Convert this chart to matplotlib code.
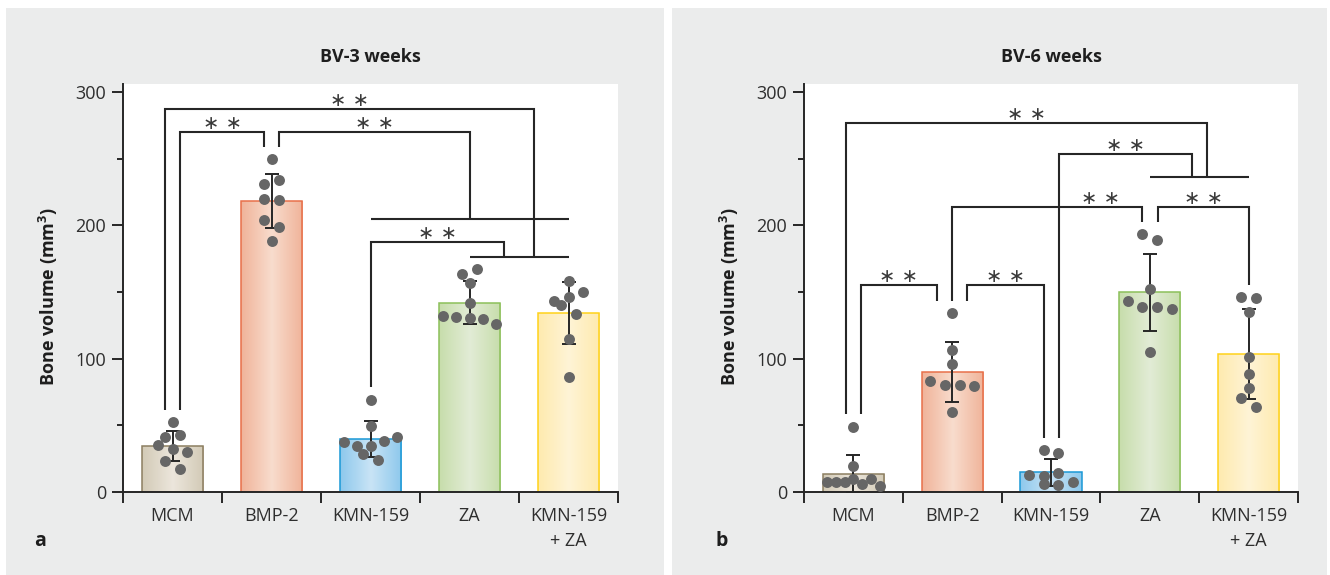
import numpy as np
import matplotlib
matplotlib.use('Agg')
import matplotlib.pyplot as plt
from matplotlib.colors import LinearSegmentedColormap
from matplotlib.patches import Rectangle
from matplotlib.ticker import FixedLocator, NullFormatter

# ---------------- data ----------------
categories = ['MCM', 'BMP-2', 'KMN-159', 'ZA', 'KMN-159\n+ ZA']
titles = ['BV-3 weeks', 'BV-6 weeks']
panel_letters = ['a', 'b']
y_label = r'Bone volume (mm$^{\mathbf{3}}$)'
y_major = [0, 100, 200, 300]
y_minor = [50, 150, 250]

bv3_mcm = [52.2, 41.2, 43.0, 35.3, 32.5, 30.0, 23.2, 17.5]
bv3_bmp2 = [249.5, 231.0, 234.3, 220.0, 219.3, 203.7, 199.0, 188.3]
bv3_kmn = [69.2, 49.8, 37.2, 34.7, 34.7, 38.5, 41.5, 28.7, 24.0]
bv3_za = [163.3, 167.3, 157.0, 141.5, 131.8, 131.5, 130.3, 129.5, 126.0]
bv3_kmn_za = [158.5, 143.0, 146.5, 150.0, 140.0, 133.7, 114.8, 86.0]

bv6_mcm = [49.0, 19.8, 7.8, 7.8, 7.8, 9.5, 6.0, 10.0, 4.8]
bv6_bmp2 = [134.2, 106.3, 95.7, 83.5, 80.0, 80.0, 79.5, 60.0]
bv6_kmn = [31.5, 29.5, 12.5, 11.8, 14.5, 7.8, 6.0, 5.3]
bv6_za = [193.7, 189.3, 152.3, 143.3, 138.5, 138.5, 137.0, 105.2]
bv6_kmn_za = [146.0, 145.3, 134.8, 101.2, 88.7, 78.2, 70.8, 64.0]

groups_3w = [bv3_mcm, bv3_bmp2, bv3_kmn, bv3_za, bv3_kmn_za]
groups_6w = [bv6_mcm, bv6_bmp2, bv6_kmn, bv6_za, bv6_kmn_za]

# significance brackets: (left x, right x, top y, left leg end, right leg end, star x)
brackets_3w = [
    (0 + 0.08, 1 - 0.076, 270, 61.5, 259, None),
    (1 + 0.076, 3.0, 270, 259, 204.5, None),
    (2.0, 3.35, 187.5, 78.5, 176.5, None),
    (0 - 0.076, 3.65, 287, 61.5, 176.5, None),
]
group_lines_3w = [(2.0, 4.0, 204.5), (3.0, 4.0, 176.5)]

brackets_6w = [
    (0 + 0.074, 1 - 0.154, 155, 58.3, 143.5, None),
    (1 + 0.153, 2 - 0.074, 155, 143.5, 40.7, None),
    (1.0, 3 - 0.08, 214, 143.5, 202.7, 2.5),
    (3 + 0.08, 4.0, 214, 202.7, 155.3, None),
    (2 + 0.08, 3.43, 253.5, 40.7, 236.5, None),
    (0 - 0.078, 3.58, 276.5, 58.3, 236.5, None),
]
group_lines_6w = [(3.0, 4.0, 236.5)]

# ---------------- style ----------------
edge_colors = ['#8c7e60', '#e8704a', '#1a98d6', '#8cc05a', '#ffd21a']
side_fills = ['#d2cab6', '#f0b399', '#8dc8ec', '#c7ddab', '#feeaae']
mid_fills = ['#ece6dc', '#f8dccd', '#c9e4f6', '#e2ecd6', '#fff4d6']
DOT = '#666666'
INK = '#262626'
TXT = '#2e2e2e'
PANEL = '#ebecec'

plt.rcParams['font.family'] = ['Open Sans', 'DejaVu Sans']
plt.rcParams['font.size'] = 13
plt.rcParams['mathtext.fontset'] = 'custom'
plt.rcParams['mathtext.rm'] = 'Open Sans'
plt.rcParams['mathtext.bf'] = 'Open Sans:bold'

W, H = 1330, 575
fig = plt.figure(figsize=(W / 100, H / 100), dpi=100)
fig.patch.set_facecolor('white')
fig.patches.append(Rectangle((6 / W, 0), 658 / W, 567 / H, transform=fig.transFigure,
                             facecolor=PANEL, edgecolor='none', zorder=-10))
fig.patches.append(Rectangle((672 / W, 0), 655 / W, 567 / H, transform=fig.transFigure,
                             facecolor=PANEL, edgecolor='none', zorder=-10))


def swarm_offsets(vals, row_gap=7.3, max_span=0.53, step=0.15):
    vals = np.asarray(vals, float)
    order = np.argsort(-vals, kind='stable')
    rows, cur, top = [], [], None
    for i in order:
        if cur and top - vals[i] > row_gap:
            rows.append(cur)
            cur = []
        if not cur:
            top = vals[i]
        cur.append(i)
    if cur:
        rows.append(cur)
    off = np.zeros(len(vals))
    for r in rows:
        r = sorted(r)
        n = len(r)
        if n > 1:
            s = min(step, max_span / (n - 1))
            for k, i in enumerate(r):
                off[i] = (k - (n - 1) / 2) * s
    return off


def draw_panel(ax, groups, title, brackets, group_lines):
    x = np.arange(len(categories))
    means = [np.mean(g) for g in groups]
    sds = [np.std(g, ddof=1) for g in groups]
    bars = ax.bar(x, means, width=0.62, facecolor='none', edgecolor=edge_colors,
                  linewidth=1.1, zorder=2)
    grad = np.linspace(0, 1, 256).reshape(1, -1)
    for i, b in enumerate(bars):
        cmap = LinearSegmentedColormap.from_list(
            'g%d' % i, [side_fills[i], mid_fills[i], side_fills[i]])
        im = ax.imshow(grad, cmap=cmap, aspect='auto', zorder=1,
                       extent=[b.get_x(), b.get_x() + b.get_width(), 0, b.get_height()])
        im.set_clip_path(b)
    ax.errorbar(x, means, yerr=sds, fmt='none', ecolor=INK, elinewidth=1.4,
                capsize=5, capthick=1.4, zorder=3)
    for i, g in enumerate(groups):
        ax.scatter(x[i] + swarm_offsets(g), g, s=62, color=DOT, linewidths=0, zorder=4)

    for (x1, x2, y, y1, y2, sx) in brackets:
        ax.plot([x1, x1, x2, x2], [y1, y, y, y2], color=INK, lw=1.5,
                solid_joinstyle='miter', solid_capstyle='butt', zorder=5)
        ax.text((x1 + x2) / 2 if sx is None else sx, y + 2.2, '∗ ∗',
                family=['DejaVu Sans'], fontsize=14, color='#3a3a3a',
                ha='center', va='baseline', zorder=6)
    for (x1, x2, y) in group_lines:
        ax.plot([x1, x2], [y, y], color=INK, lw=1.5, solid_capstyle='butt', zorder=5)

    ax.set_xlim(-0.5, len(categories) - 0.5)
    ax.set_ylim(0, 306)
    ax.set_facecolor('white')
    for s in ['top', 'right']:
        ax.spines[s].set_visible(False)
    for s in ['left', 'bottom']:
        ax.spines[s].set_linewidth(1.4)
        ax.spines[s].set_color(INK)
    ax.set_xticks(x)
    ax.set_xticklabels(categories, linespacing=1.45)
    ax.xaxis.set_minor_locator(FixedLocator(np.arange(-0.5, len(categories), 1.0)))
    ax.xaxis.set_minor_formatter(NullFormatter())
    ax.tick_params(axis='x', which='major', length=0, pad=11, labelsize=13, labelcolor=TXT)
    ax.tick_params(axis='x', which='minor', length=8, width=1.4, color=INK, direction='out')
    ax.set_yticks(y_major)
    ax.yaxis.set_minor_locator(FixedLocator(y_minor))
    ax.tick_params(axis='y', which='major', length=8, width=1.4, color=INK, pad=4,
                   labelsize=13, labelcolor=TXT)
    ax.tick_params(axis='y', which='minor', length=4.5, width=1.4, color=INK)
    ax.set_ylabel(y_label, fontweight='bold', fontsize=13, color='#1e1e1e')
    ax.yaxis.set_label_coords(-0.128, 0.478)
    ax.set_title(title, fontweight='bold', fontsize=13, color='#1e1e1e', pad=16)


ax1 = fig.add_axes([123 / W, (H - 492) / H, 495 / W, 408 / H])
ax2 = fig.add_axes([804 / W, (H - 492) / H, 494 / W, 408 / H])
draw_panel(ax1, groups_3w, titles[0], brackets_3w, group_lines_3w)
draw_panel(ax2, groups_6w, titles[1], brackets_6w, group_lines_6w)

fig.text(40 / W, 1 - 541 / H, panel_letters[0], fontweight='bold', fontsize=14,
         color='#1e1e1e', ha='center', va='center')
fig.text(722 / W, 1 - 541 / H, panel_letters[1], fontweight='bold', fontsize=14,
         color='#1e1e1e', ha='center', va='center')

fig.savefig('out.png', dpi=100, facecolor='white')
